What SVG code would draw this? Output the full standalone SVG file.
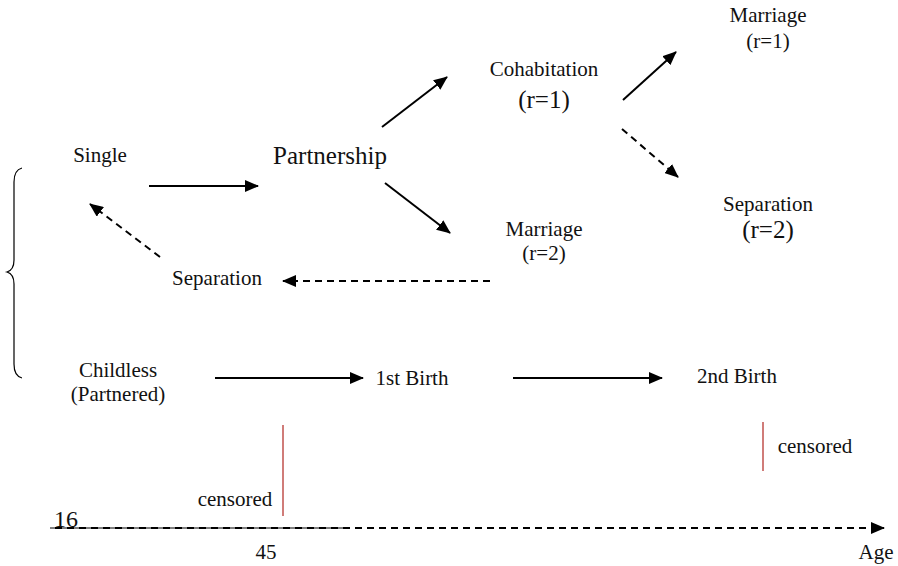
<svg xmlns="http://www.w3.org/2000/svg" width="898" height="566" viewBox="0 0 898 566">
<style>
text{font-family:"Liberation Serif","Times New Roman",serif;fill:#111;text-anchor:middle;font-size:21px}
.big{font-size:25px}
.c{stroke:#000;stroke-width:2;fill:none}
.d{stroke-dasharray:7,5}
.red{stroke:#c0504d;stroke-width:1.5}
</style>
<defs>
<marker id="ah" markerUnits="userSpaceOnUse" markerWidth="14" markerHeight="12" refX="13" refY="6" orient="auto">
<path d="M0,0 L14,6 L0,12 Z" fill="#000"/>
</marker>
</defs>
<rect width="898" height="566" fill="#fff"/>
<g id="brace"><path d="M22,168 Q14,170 14,182 L14,260 Q14,270 7,272 Q14,274 14,284 L14,364 Q14,376 22,378" fill="none" stroke="#000" stroke-width="1.2"/></g>
<g id="single"><text x="100" y="162">Single</text></g>
<g id="partnership"><text class="big" x="330" y="164">Partnership</text></g>
<g id="cohabitation"><text x="544" y="76">Cohabitation</text><text class="big" x="544" y="108">(r=1)</text></g>
<g id="marriage1"><text x="768" y="22">Marriage</text><text x="768" y="48">(r=1)</text></g>
<g id="separation2"><text x="768" y="211">Separation</text><text class="big" x="768" y="238">(r=2)</text></g>
<g id="marriage2"><text x="544" y="236">Marriage</text><text x="544" y="260">(r=2)</text></g>
<g id="separation"><text x="217" y="285">Separation</text></g>
<g id="childless"><text x="118" y="377">Childless</text><text x="118" y="401">(Partnered)</text></g>
<g id="birth1"><text x="412" y="385">1st Birth</text></g>
<g id="birth2"><text x="737" y="383">2nd Birth</text></g>
<g id="censor-right"><line class="red" x1="763" y1="422" x2="763" y2="471"/><text x="815" y="453">censored</text></g>
<g id="censor-left"><line class="red" x1="283" y1="425" x2="283" y2="516"/><text x="235" y="506">censored</text></g>
<g id="axis">
<line x1="50" y1="528" x2="347" y2="528" stroke="#000" stroke-width="1"/>
<line class="c d" x1="55" y1="528" x2="884" y2="528" marker-end="url(#ah)"/>
<text x="66" y="527" style="font-size:24px">16</text>
<text x="266" y="559">45</text>
<text x="876" y="559">Age</text>
</g>
<g id="connectors">
<line class="c" x1="149" y1="186" x2="258" y2="186" marker-end="url(#ah)"/>
<line class="c" x1="382" y1="127" x2="447" y2="77" marker-end="url(#ah)"/>
<line class="c" x1="385" y1="183" x2="450" y2="233" marker-end="url(#ah)"/>
<line class="c" x1="623" y1="100" x2="676" y2="52" marker-end="url(#ah)"/>
<line class="c d" x1="622" y1="129" x2="678" y2="177" marker-end="url(#ah)"/>
<line class="c d" x1="490" y1="281" x2="283" y2="281" marker-end="url(#ah)"/>
<line class="c d" x1="160" y1="257" x2="90" y2="204" marker-end="url(#ah)"/>
<line class="c" x1="215" y1="378" x2="363" y2="378" marker-end="url(#ah)"/>
<line class="c" x1="513" y1="378" x2="662" y2="378" marker-end="url(#ah)"/>
</g>
</svg>
